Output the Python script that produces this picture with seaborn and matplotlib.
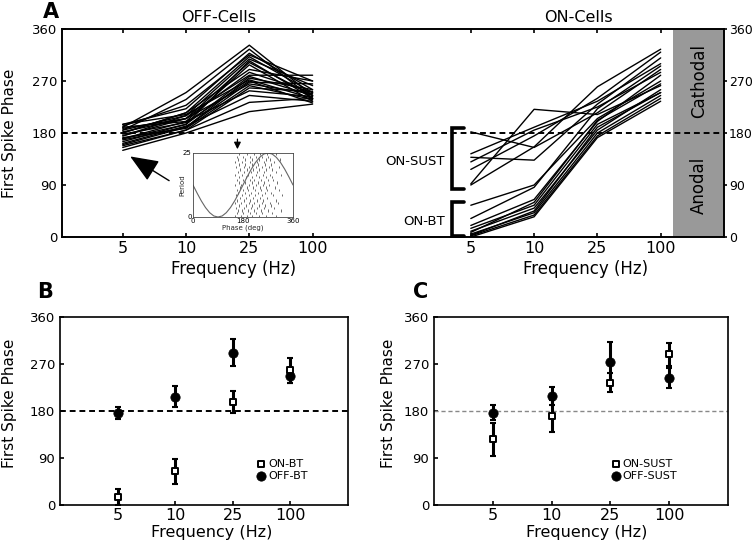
import numpy as np
import pandas as pd
import matplotlib
matplotlib.use('Agg')
import matplotlib.pyplot as plt
import seaborn as sns

sns.set_style('ticks')
plt.rcParams['font.family'] = ['DejaVu Sans']
plt.rcParams['axes.linewidth'] = 1.2
plt.rcParams['axes.edgecolor'] = 'k'
plt.rcParams['text.color'] = 'k'
plt.rcParams['xtick.color'] = 'k'
plt.rcParams['ytick.color'] = 'k'

freq_labels = ['5', '10', '25', '100']
phase_ticks = [0, 90, 180, 270, 360]

# panel A: first spike phase of single cells at 5, 10, 25, 100 Hz
off_cells = [
    [190, 250, 332, 245], [185, 238, 325, 240], [195, 222, 318, 255],
    [180, 215, 312, 250], [175, 210, 308, 262], [188, 205, 302, 245],
    [170, 200, 298, 235], [192, 228, 315, 270], [165, 195, 305, 240],
    [180, 215, 290, 270], [175, 205, 285, 250], [185, 210, 280, 280],
    [170, 195, 278, 245], [160, 190, 275, 255], [195, 212, 272, 240],
    [178, 198, 270, 232], [168, 190, 268, 265], [182, 205, 265, 248],
    [172, 188, 262, 238], [158, 185, 258, 252], [190, 200, 253, 243],
    [162, 192, 245, 235], [155, 185, 233, 240], [150, 180, 217, 230],
]
on_cells = [
    [182, 155, 215, 290], [144, 190, 235, 300], [130, 185, 225, 285],
    [138, 133, 230, 310], [117, 175, 240, 320], [92, 221, 212, 262],
    [90, 156, 260, 325], [55, 90, 205, 270], [32, 86, 222, 296],
    [20, 65, 200, 280], [15, 55, 195, 250], [10, 50, 185, 255],
    [5, 42, 180, 245], [2, 38, 175, 240], [0, 35, 172, 235],
    [8, 60, 202, 265], [3, 45, 190, 250],
]
off_pos = [1, 2, 3, 4]
on_pos = [6.5, 7.5, 8.5, 9.5]

# inset: stimulus waveform and spike raster
wave_phase = list(range(0, 361, 15))
wave_period = [12.5, 9.3, 6.3, 3.7, 1.7, 0.4, 0, 0.4, 1.7, 3.7, 6.3, 9.3, 12.5,
               15.7, 18.7, 21.3, 23.3, 24.6, 25, 24.6, 23.3, 21.3, 18.7, 15.7, 12.5]
raster_phases = [
    [150, 172, 196, 214, 238, 262, 300], [158, 180, 205, 226, 250, 284],
    [162, 176, 199, 221, 244, 271, 318], [155, 185, 208, 232, 256, 292],
    [166, 190, 212, 236, 260, 281], [152, 174, 201, 219, 247, 276, 305],
    [160, 183, 206, 229, 253, 298], [168, 192, 215, 240, 266],
    [154, 178, 203, 224, 249, 287, 322], [163, 187, 210, 234, 258, 279],
    [157, 181, 197, 223, 245, 268, 310], [170, 194, 217, 242, 263, 295],
    [151, 173, 200, 227, 251, 274], [164, 188, 211, 233, 257, 302],
    [159, 179, 204, 220, 246, 270, 289], [167, 191, 213, 237, 261, 283],
    [153, 177, 198, 225, 252, 278, 315], [161, 184, 209, 231, 255, 297],
    [169, 193, 216, 239, 264, 286], [156, 182, 202, 228, 248, 273, 308],
    [165, 189, 214, 235, 259, 282], [152, 175, 207, 230, 254, 291],
    [162, 186, 212, 238, 262, 277, 312], [158, 180, 205, 226, 250, 269],
    [166, 195, 218, 241, 265, 299],
]

# panels B and C: mean +- error
on_bt = [16, 65, 198, 258]
on_bt_err = [15, 24, 21, 24]
off_bt = [176, 207, 292, 248]
off_bt_err = [12, 20, 25, 14]
on_sust = [126, 170, 234, 289]
on_sust_err = [32, 31, 18, 22]
off_sust = [177, 209, 273, 244]
off_sust_err = [15, 17, 40, 19]

rows = []
for i, cell in enumerate(off_cells):
    for x, v in zip(off_pos, cell):
        rows.append({'cell': 'off%d' % i, 'x': x, 'phase': v})
for i, cell in enumerate(on_cells):
    for x, v in zip(on_pos, cell):
        rows.append({'cell': 'on%d' % i, 'x': x, 'phase': v})
df_a = pd.DataFrame(rows)

fig = plt.figure(figsize=(7.55, 5.41), dpi=100)

# ---------------- panel A
ax = fig.add_axes([0.0821, 0.5619, 0.8768, 0.3845])
ax.axvspan(9.70, 10.5, color='#999999', lw=0, zorder=0)
sns.lineplot(data=df_a, x='x', y='phase', units='cell', estimator=None,
             color='k', lw=1.0, ax=ax, legend=False, zorder=3)
ax.axhline(180, color='k', ls=(0, (3, 2)), lw=1.4, zorder=4)
ax.set_xlim(0.04, 10.5)
ax.set_ylim(0, 360)
ax.set_xticks(off_pos + on_pos)
ax.set_xticklabels(freq_labels * 2, fontsize=11.5)
ax.set_yticks(phase_ticks)
ax.set_yticklabels(phase_ticks, fontsize=9.5)
ax.set_xlabel('')
ax.set_ylabel('')
ax.tick_params(direction='in', top=True, length=3, width=1.2)
ax.tick_params(axis='x', pad=3)
axr = ax.twinx()
axr.set_ylim(0, 360)
axr.set_yticks(phase_ticks)
axr.set_yticklabels(phase_ticks, fontsize=9)
axr.tick_params(direction='out', length=2, width=1.2, pad=1.5)
for s in ax.spines.values():
    s.set_visible(True)

ax.text(10.1, 270, 'Cathodal', rotation=90, ha='center', va='center', fontsize=12)
ax.text(10.1, 90, 'Anodal', rotation=90, ha='center', va='center', fontsize=12)

# brackets for ON cell groups
for y0, y1, lab in [(83, 188, 'ON-SUST'), (2, 61, 'ON-BT')]:
    ax.plot([6.39, 6.20, 6.20, 6.39], [y1, y1, y0, y0], color='k', lw=2.6,
            solid_joinstyle='miter', clip_on=False, zorder=5)
    ax.text(6.09, (y0 + y1) / 2 - 5, lab, ha='right', va='center', fontsize=9.5)

ax.annotate('', xy=(1.08, 142), xytext=(1.77, 95),
            arrowprops=dict(arrowstyle='-|>,head_length=1.1,head_width=0.45',
                            color='k', lw=1.0, mutation_scale=16))

# inset raster
axi = fig.add_axes([0.2556, 0.5989, 0.1325, 0.1183])
axi.eventplot(raster_phases, lineoffsets=np.arange(len(raster_phases)) + 0.5,
              linelengths=0.9, linewidths=0.6, colors='#555555')
axi.plot(wave_phase, wave_period, color='#666666', lw=0.8)
axi.set_xlim(0, 360)
axi.set_ylim(0, 25)
axi.set_xticks([0, 180, 360])
axi.set_yticks([0, 25])
axi.tick_params(labelsize=5, length=0, pad=1)
axi.set_xlabel('Phase (deg)', fontsize=5, labelpad=0)
axi.set_ylabel('Period', fontsize=5, labelpad=-2)
for s in axi.spines.values():
    s.set_linewidth(0.6)
    s.set_color('#444444')
axi.annotate('', xy=(160, 25.4), xytext=(160, 31.5), annotation_clip=False,
             arrowprops=dict(arrowstyle='-|>,head_length=0.5,head_width=0.25',
                             color='k', lw=0.9, mutation_scale=8))

fig.text(0.057, 0.967, 'A', fontsize=15, fontweight='bold', ha='left', va='baseline')
fig.text(0.289, 0.968, 'OFF-Cells', fontsize=11.5, ha='center', va='center')
fig.text(0.766, 0.968, 'ON-Cells', fontsize=11.5, ha='center', va='center')
fig.text(0.309, 0.503, 'Frequency (Hz)', fontsize=12, ha='center', va='center')
fig.text(0.775, 0.503, 'Frequency (Hz)', fontsize=12, ha='center', va='center')
fig.text(0.013, 0.754, 'First Spike Phase', fontsize=11, rotation=90,
         ha='center', va='center')


def mean_panel(rect, on_vals, on_err, off_vals, off_err, on_lab, off_lab,
               ref_color, ref_lw, leg_x):
    axp = fig.add_axes(rect)
    axp.axhline(180, color=ref_color, ls=(0, (3, 2)), lw=ref_lw, zorder=1)
    axp.errorbar(off_pos, off_vals, yerr=off_err, fmt='none', ecolor='k',
                 elinewidth=2.2, capsize=2, capthick=1.5, zorder=2)
    axp.errorbar(off_pos, on_vals, yerr=on_err, fmt='none', ecolor='k',
                 elinewidth=2.2, capsize=2, capthick=1.5, zorder=2)
    sns.scatterplot(x=off_pos, y=on_vals, marker='s', s=22, color='white',
                    edgecolor='k', linewidth=1.4, ax=axp, label=on_lab, zorder=4)
    sns.scatterplot(x=off_pos, y=off_vals, marker='o', s=45, color='k',
                    edgecolor='k', ax=axp, label=off_lab, zorder=3)
    axp.set_xlim(0, 5)
    axp.set_ylim(0, 360)
    axp.set_xticks(off_pos)
    axp.set_xticklabels(freq_labels, fontsize=11.5)
    axp.set_yticks(phase_ticks)
    axp.set_yticklabels(phase_ticks, fontsize=9.5)
    axp.tick_params(direction='in', length=3, width=1.2)
    axp.tick_params(axis='x', pad=2)
    for s in axp.spines.values():
        s.set_visible(True)
    axp.legend(loc='lower left', bbox_to_anchor=(leg_x, 0.13), frameon=False,
               fontsize=8, handletextpad=0.1, labelspacing=0.15,
               borderpad=0, handlelength=1.0, borderaxespad=0)
    return axp


mean_panel([0.0795, 0.0665, 0.3815, 0.3475], on_bt, on_bt_err, off_bt, off_bt_err,
           'ON-BT', 'OFF-BT', 'k', 1.4, 0.68)
mean_panel([0.5748, 0.0665, 0.3894, 0.3475], on_sust, on_sust_err, off_sust,
           off_sust_err, 'ON-SUST', 'OFF-SUST', '#888888', 1.0, 0.6)

fig.text(0.049, 0.449, 'B', fontsize=15, fontweight='bold', ha='left', va='baseline')
fig.text(0.547, 0.449, 'C', fontsize=15, fontweight='bold', ha='left', va='baseline')
fig.text(0.281, 0.016, 'Frequency (Hz)', fontsize=11.5, ha='center', va='center')
fig.text(0.777, 0.016, 'Frequency (Hz)', fontsize=11.5, ha='center', va='center')
fig.text(0.013, 0.255, 'First Spike Phase', fontsize=11, rotation=90,
         ha='center', va='center')
fig.text(0.515, 0.255, 'First Spike Phase', fontsize=11, rotation=90,
         ha='center', va='center')

fig.savefig('out.png', dpi=100)
